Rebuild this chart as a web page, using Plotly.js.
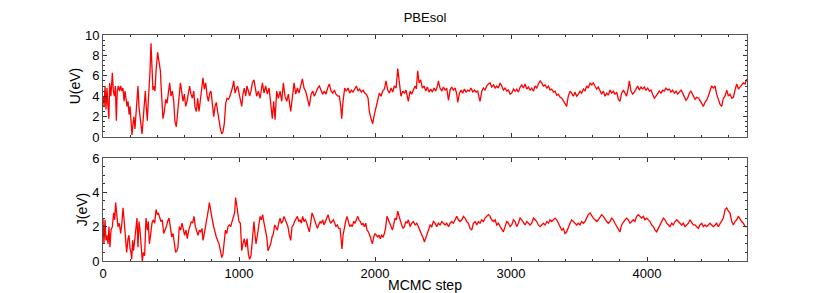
<!DOCTYPE html>
<html><head><meta charset="utf-8">
<script src="https://cdn.plot.ly/plotly-3.0.1.min.js"></script>
<style>html,body{margin:0;padding:0;background:#fff}#chart{width:830px;height:293px}</style>
</head><body><div id="chart"></div>
<script>
// MCMC trace for U (eV)
const uSteps = [0,8,15,22,29,37,43,49,58,69,76,84,91,98,105,113,122,130,139,147,155,162,170,177,184,192,199,206,213,220,227,235,242,249,257,264,272,280,287,294,302,311,318,326,333,340,346,353,360,367,375,382,390,397,402,407,412,418,422,427,431,441,451,461,471,480,490,500,510,520,529,539,549,559,569,578,588,598,608,618,627,637,647,657,667,676,686,696,706,716,725,735,745,755,765,775,784,794,804,814,824,833,843,853,863,873,882,892,902,912,922,931,941,951,961,971,980,990,1000,1010,1020,1029,1039,1049,1059,1069,1078,1088,1098,1110,1118,1130,1142,1155,1172,1184,1196,1208,1221,1233,1245,1255,1265,1277,1289,1302,1314,1326,1338,1351,1363,1380,1392,1405,1417,1429,1441,1454,1466,1478,1490,1503,1517,1530,1542,1554,1566,1579,1591,1603,1615,1628,1640,1652,1664,1677,1689,1701,1713,1726,1738,1748,1755,1765,1777,1789,1802,1814,1826,1838,1851,1863,1875,1887,1900,1912,1924,1936,1949,1958,1971,1983,1995,2007,2020,2032,2044,2056,2069,2081,2093,2106,2118,2130,2142,2155,2167,2179,2191,2204,2216,2228,2240,2245,2258,2270,2282,2295,2304,2314,2324,2336,2348,2361,2373,2385,2397,2410,2422,2434,2446,2459,2466,2478,2491,2503,2515,2527,2540,2552,2564,2576,2589,2601,2608,2621,2633,2645,2657,2670,2682,2694,2706,2719,2731,2743,2755,2772,2785,2797,2809,2821,2834,2846,2858,2871,2883,2895,2907,2920,2932,2944,2956,2969,2981,2993,3005,3018,3030,3042,3054,3067,3079,3091,3103,3116,3128,3140,3152,3165,3177,3189,3201,3214,3226,3238,3250,3263,3275,3287,3299,3312,3324,3336,3348,3361,3373,3385,3397,3409,3421,3434,3446,3458,3470,3483,3495,3507,3519,3532,3544,3556,3568,3581,3593,3605,3617,3630,3642,3654,3666,3679,3691,3703,3715,3728,3740,3752,3764,3777,3789,3801,3813,3826,3838,3850,3862,3870,3882,3894,3907,3919,3931,3943,3956,3968,3980,3992,4005,4017,4029,4041,4054,4066,4078,4090,4103,4115,4127,4139,4152,4164,4176,4188,4201,4213,4225,4237,4250,4262,4274,4286,4299,4311,4323,4335,4353,4365,4380,4393,4405,4414,4426,4438,4450,4463,4475,4487,4500,4512,4524,4537,4549,4561,4573,4586,4598,4610,4623,4635,4647,4659,4672,4684,4696,4708,4721,4733];
const uValues = [4.0,3.0,5.0,2.7,4.8,2.0,1.8,5.3,4.0,6.3,4.5,4.0,5.0,1.6,4.5,5.0,4.5,5.0,4.5,4.8,3.5,4.5,3.8,3.0,3.5,2.2,3.0,1.5,0.2,1.2,2.0,0.8,2.5,4.0,5.0,3.0,2.2,1.2,0.3,1.5,3.0,4.5,3.0,1.6,3.5,4.7,6.5,9.2,6.0,4.6,5.0,4.5,6.5,7.5,8.3,7.8,7.3,7.0,6.5,5.0,3.5,1.8,2.5,3.7,3.3,4.6,5.3,4.0,4.5,3.5,1.5,1.0,2.5,4.5,5.3,4.5,3.5,4.2,3.0,3.5,4.5,5.0,4.2,3.8,4.5,3.0,2.5,3.8,2.5,3.5,4.5,5.8,4.7,5.3,4.1,3.5,4.3,4.5,3.3,2.0,3.0,3.4,2.5,1.5,0.8,0.3,0.5,1.3,3.3,3.8,3.7,3.9,4.3,4.8,5.5,4.3,4.7,5.0,4.3,3.5,3.0,4.2,4.8,4.0,5.0,4.5,4.0,4.5,5.3,5.6,4.8,4.0,4.5,3.8,5.3,4.3,5.0,4.2,4.8,3.5,1.8,3.5,1.7,4.5,3.8,4.5,3.5,5.3,4.0,3.5,4.2,2.5,4.0,5.3,4.2,4.8,4.3,4.9,5.7,4.8,4.5,3.8,3.0,4.2,4.5,4.0,4.4,4.8,5.0,4.5,4.2,4.5,4.2,4.8,5.2,4.5,4.3,4.6,4.2,4.0,4.0,3.0,1.8,3.5,4.8,4.5,4.8,4.3,4.6,4.4,4.8,5.0,4.5,4.7,4.4,4.6,4.3,4.2,3.8,2.5,1.8,1.3,2.2,3.0,3.8,4.3,4.0,4.5,4.7,5.5,4.6,4.3,4.8,4.4,5.0,4.8,6.7,5.2,4.0,4.5,4.3,4.6,3.8,3.5,4.5,4.2,4.6,5.0,4.7,6.5,5.3,5.6,4.8,5.0,4.5,4.9,4.4,4.7,4.4,4.8,4.5,5.0,5.5,4.8,4.5,4.9,4.6,4.8,3.6,4.6,4.9,4.6,4.8,4.2,3.4,4.3,4.6,4.3,4.7,4.4,4.6,4.5,4.8,4.4,4.6,4.4,4.5,3.5,4.5,4.8,4.6,5.0,5.2,5.3,4.9,5.1,4.8,5.0,4.8,5.3,5.0,4.6,4.8,4.5,4.6,4.2,4.3,4.7,4.5,4.7,4.4,4.9,5.1,4.8,5.2,4.7,4.9,4.6,4.8,4.5,5.0,4.8,5.2,5.5,5.3,5.0,5.1,4.8,5.0,4.6,4.7,4.4,4.5,4.1,4.2,3.9,3.8,3.5,3.3,3.0,4.0,4.5,4.3,4.0,4.4,4.0,4.2,4.5,4.3,4.7,4.5,5.0,4.8,5.3,5.1,5.3,5.0,4.7,4.9,4.5,4.2,4.5,4.0,4.3,4.1,4.6,4.3,4.5,4.2,4.4,3.7,3.5,4.3,4.6,4.3,4.0,4.8,5.5,4.5,4.2,4.4,4.7,5.0,4.6,4.9,4.7,4.9,4.6,4.8,4.5,4.6,4.2,3.8,4.0,4.3,4.5,4.3,4.6,4.5,4.8,4.6,4.7,4.4,4.6,4.3,4.5,4.2,4.4,4.6,4.3,4.0,3.6,3.8,4.3,4.5,4.2,3.7,3.9,3.8,3.5,3.2,3.0,3.4,3.6,4.0,4.5,5.0,4.8,5.0,4.2,3.8,3.2,3.0,3.8,4.0,4.6,4.0,4.2,3.8,3.9,4.6,5.2,4.7,4.9,5.0,5.3,5.2,5.7];

// MCMC trace for J (eV)
const jSteps = [0,7,15,22,29,37,44,51,59,69,78,86,93,103,110,120,130,140,147,157,164,174,184,191,199,206,211,218,225,235,243,250,257,265,272,279,289,297,306,316,326,333,341,350,360,370,380,390,400,407,417,426,436,446,456,466,475,485,495,505,515,525,534,544,551,561,571,581,591,600,610,620,630,640,650,659,669,679,689,699,708,718,728,735,745,755,765,775,782,789,797,806,814,824,833,843,853,863,873,882,892,900,909,919,929,939,949,958,968,975,983,990,1000,1010,1020,1029,1039,1049,1059,1069,1078,1088,1101,1110,1118,1125,1135,1145,1155,1164,1174,1184,1194,1204,1213,1223,1233,1243,1253,1262,1272,1282,1292,1302,1311,1321,1331,1341,1351,1360,1370,1380,1390,1400,1409,1419,1429,1439,1449,1458,1468,1478,1488,1498,1507,1517,1527,1537,1547,1556,1566,1576,1586,1596,1606,1615,1625,1635,1645,1655,1664,1674,1684,1694,1704,1713,1723,1733,1743,1750,1757,1765,1775,1784,1794,1804,1814,1824,1833,1843,1853,1863,1873,1882,1892,1902,1912,1922,1932,1941,1951,1961,1971,1981,1990,2000,2010,2020,2030,2039,2049,2059,2069,2079,2088,2098,2108,2118,2128,2137,2147,2157,2167,2177,2186,2196,2206,2216,2226,2235,2245,2258,2270,2282,2295,2307,2319,2331,2344,2356,2363,2373,2383,2393,2405,2417,2429,2442,2454,2466,2478,2491,2503,2515,2527,2540,2552,2564,2576,2589,2601,2613,2625,2638,2650,2662,2674,2687,2699,2711,2723,2736,2748,2760,2772,2785,2797,2809,2821,2834,2846,2858,2871,2883,2895,2907,2920,2932,2944,2956,2969,2981,2993,3005,3018,3030,3042,3054,3067,3079,3091,3103,3116,3128,3140,3152,3165,3177,3189,3201,3214,3226,3238,3250,3263,3275,3287,3299,3312,3324,3336,3348,3361,3373,3385,3397,3409,3421,3434,3446,3458,3470,3483,3495,3507,3519,3532,3544,3556,3568,3581,3593,3605,3617,3630,3642,3654,3666,3679,3691,3703,3715,3728,3740,3752,3764,3777,3789,3801,3813,3826,3838,3850,3862,3875,3887,3899,3911,3924,3936,3948,3960,3973,3985,3997,4009,4022,4034,4046,4059,4071,4083,4095,4108,4120,4132,4144,4157,4169,4181,4193,4206,4218,4230,4242,4255,4267,4279,4291,4304,4316,4328,4340,4353,4365,4377,4389,4402,4414,4426,4438,4450,4463,4475,4487,4500,4512,4524,4537,4549,4561,4574,4586,4598,4610,4623,4635,4647,4659,4672,4684,4696,4708,4721,4733];
const jValues = [2.5,1.0,2.4,1.2,1.5,1.0,2.0,0.8,1.8,2.0,2.8,2.4,3.4,2.5,2.0,2.2,1.6,2.3,3.1,2.2,1.4,0.5,1.3,1.5,0.7,0.5,0.1,1.2,0.6,1.5,2.0,2.5,0.8,2.3,1.8,1.0,0.0,0.5,0.3,2.5,1.8,2.3,1.0,1.5,2.2,2.4,2.2,3.0,2.7,2.8,2.5,2.3,2.4,1.6,1.8,2.0,2.3,2.5,2.0,1.4,1.6,1.0,0.5,0.6,0.8,2.0,1.8,2.2,1.9,1.5,1.8,1.3,1.8,2.0,2.3,2.2,2.6,2.0,1.7,1.5,1.8,1.7,1.9,1.2,1.6,2.0,2.5,3.0,3.4,3.0,2.5,2.3,2.0,1.6,1.4,1.2,1.0,0.6,0.2,0.4,1.0,1.8,1.6,2.0,2.1,2.0,2.3,2.5,2.8,3.7,3.2,3.0,2.3,2.2,0.6,1.0,1.3,0.8,1.3,0.4,0.1,0.3,1.8,2.3,1.5,1.0,1.5,2.0,2.6,2.4,2.7,2.2,1.8,1.4,0.6,0.8,1.0,1.4,1.6,2.1,1.9,1.8,2.2,2.5,2.2,2.3,2.6,2.4,2.2,2.0,1.5,1.2,2.0,2.1,2.3,2.5,2.6,2.3,2.4,2.2,2.6,2.3,2.4,2.2,1.9,1.7,2.2,2.8,2.6,2.4,2.1,1.9,2.1,2.3,2.2,2.4,2.1,2.3,2.5,2.7,2.4,2.2,2.3,2.4,2.2,2.0,2.1,1.9,1.9,1.2,0.7,1.5,2.0,2.3,2.6,2.3,2.0,2.1,2.0,2.3,2.2,2.4,2.6,2.4,2.3,2.1,2.2,2.0,2.2,1.8,1.7,1.5,1.3,1.0,1.4,1.6,1.5,1.4,1.5,1.3,1.5,1.4,1.6,2.0,2.6,2.4,2.2,1.9,1.8,2.1,2.5,2.4,2.9,2.6,2.3,2.1,1.9,2.0,2.3,2.2,2.4,2.0,2.2,2.3,2.1,2.2,2.0,1.8,1.6,1.3,1.1,1.3,1.5,1.8,2.1,2.0,2.3,2.2,2.0,2.2,2.1,2.3,2.2,2.1,2.2,2.0,2.2,2.3,2.2,2.4,2.6,2.4,2.3,2.4,2.6,2.5,2.3,2.2,1.9,1.8,2.2,2.3,2.1,2.3,2.2,2.4,2.3,2.5,2.6,2.7,2.6,2.4,2.3,2.4,2.1,2.2,2.0,1.8,1.7,2.0,2.3,2.2,2.0,2.1,2.4,2.3,2.0,2.2,2.5,2.4,2.2,2.1,2.3,2.2,2.1,2.2,2.5,2.4,2.3,2.1,2.0,2.1,2.2,2.1,2.3,2.2,2.4,2.3,2.4,2.5,2.4,2.2,2.0,1.8,1.9,1.6,1.7,2.0,2.2,2.4,2.3,2.2,2.1,2.2,2.1,2.3,2.2,2.3,2.5,2.7,2.8,2.6,2.5,2.4,2.3,2.4,2.6,2.7,2.6,2.4,2.3,2.2,2.3,2.5,2.4,2.2,2.0,1.8,1.7,2.1,2.3,2.4,2.5,2.4,2.2,2.3,2.4,2.3,2.6,2.7,2.6,2.5,2.6,2.4,2.5,2.4,2.3,2.1,2.0,1.8,1.7,1.9,2.1,2.3,2.5,2.4,2.2,2.1,2.0,2.2,2.1,2.3,2.4,2.3,2.2,2.1,2.2,2.0,2.1,2.2,2.4,2.2,2.1,2.1,2.0,1.9,2.1,2.2,2.0,2.1,2.0,2.1,2.2,2.1,2.0,2.1,2.2,2.0,2.2,2.4,2.5,3.0,3.1,2.9,2.8,2.3,2.1,2.3,2.4,2.6,2.4,2.3,2.2,2.0,2.0];

const xMax = 4735;
const uRange = [0, 10];
const jRange = [0, 6];

const lineStyle = {color: '#ff0000', width: 1.3};
const traces = [
  {x: uSteps, y: uValues, type: 'scatter', mode: 'lines', line: lineStyle, xaxis: 'x2', yaxis: 'y2', hoverinfo: 'skip'},
  {x: jSteps, y: jValues, type: 'scatter', mode: 'lines', line: lineStyle, xaxis: 'x', yaxis: 'y', hoverinfo: 'skip'}
];

const fontFam = 'Liberation Sans, Arial, sans-serif';
const common = {
  showline: true, linecolor: '#555', linewidth: 1, mirror: 'allticks',
  ticks: 'inside', ticklen: 4, tickcolor: '#333', tickwidth: 1,
  showgrid: false, zeroline: false,
  tickfont: {family: fontFam, size: 13, color: '#000'}
};

const layout = {
  width: 830, height: 293,
  margin: {l: 103, r: 83, t: 35, b: 32},
  paper_bgcolor: '#fff', plot_bgcolor: '#fff',
  showlegend: false,
  font: {family: fontFam, color: '#000'},
  title: {text: 'PBEsol', font: {family: fontFam, size: 13, color: '#000'}, x: 0.5, xref: 'paper', xanchor: 'center', yref: 'paper', y: 1.04, yanchor: 'middle'},
  xaxis: Object.assign({}, common, {
    domain: [0, 1], anchor: 'y', range: [0, xMax], dtick: 1000, tick0: 0,
    minor: {dtick: 200, ticklen: 2, tickcolor: '#333', ticks: 'inside'},
    title: {text: 'MCMC step', font: {family: fontFam, size: 14, color: '#000'}, standoff: 1}
  }),
  yaxis: Object.assign({}, common, {
    domain: [0, 0.4558], anchor: 'x', range: jRange, dtick: 2,
    minor: {dtick: 0.5, ticklen: 2, tickcolor: '#333', ticks: 'inside'},
    title: {text: 'J(eV)', font: {family: fontFam, size: 14, color: '#000'}, standoff: 1}
  }),
  xaxis2: Object.assign({}, common, {
    domain: [0, 1], anchor: 'y2', range: [0, xMax], dtick: 1000, tick0: 0, showticklabels: false,
    minor: {dtick: 200, ticklen: 2, tickcolor: '#333', ticks: 'inside'}
  }),
  yaxis2: Object.assign({}, common, {
    domain: [0.5487, 1], anchor: 'x2', range: uRange, dtick: 2,
    minor: {dtick: 0.5, ticklen: 2, tickcolor: '#333', ticks: 'inside'},
    title: {text: 'U(eV)', font: {family: fontFam, size: 14, color: '#000'}, standoff: 1}
  })
};

Plotly.newPlot('chart', traces, layout, {staticPlot: true, displayModeBar: false});
</script>
</body></html>
